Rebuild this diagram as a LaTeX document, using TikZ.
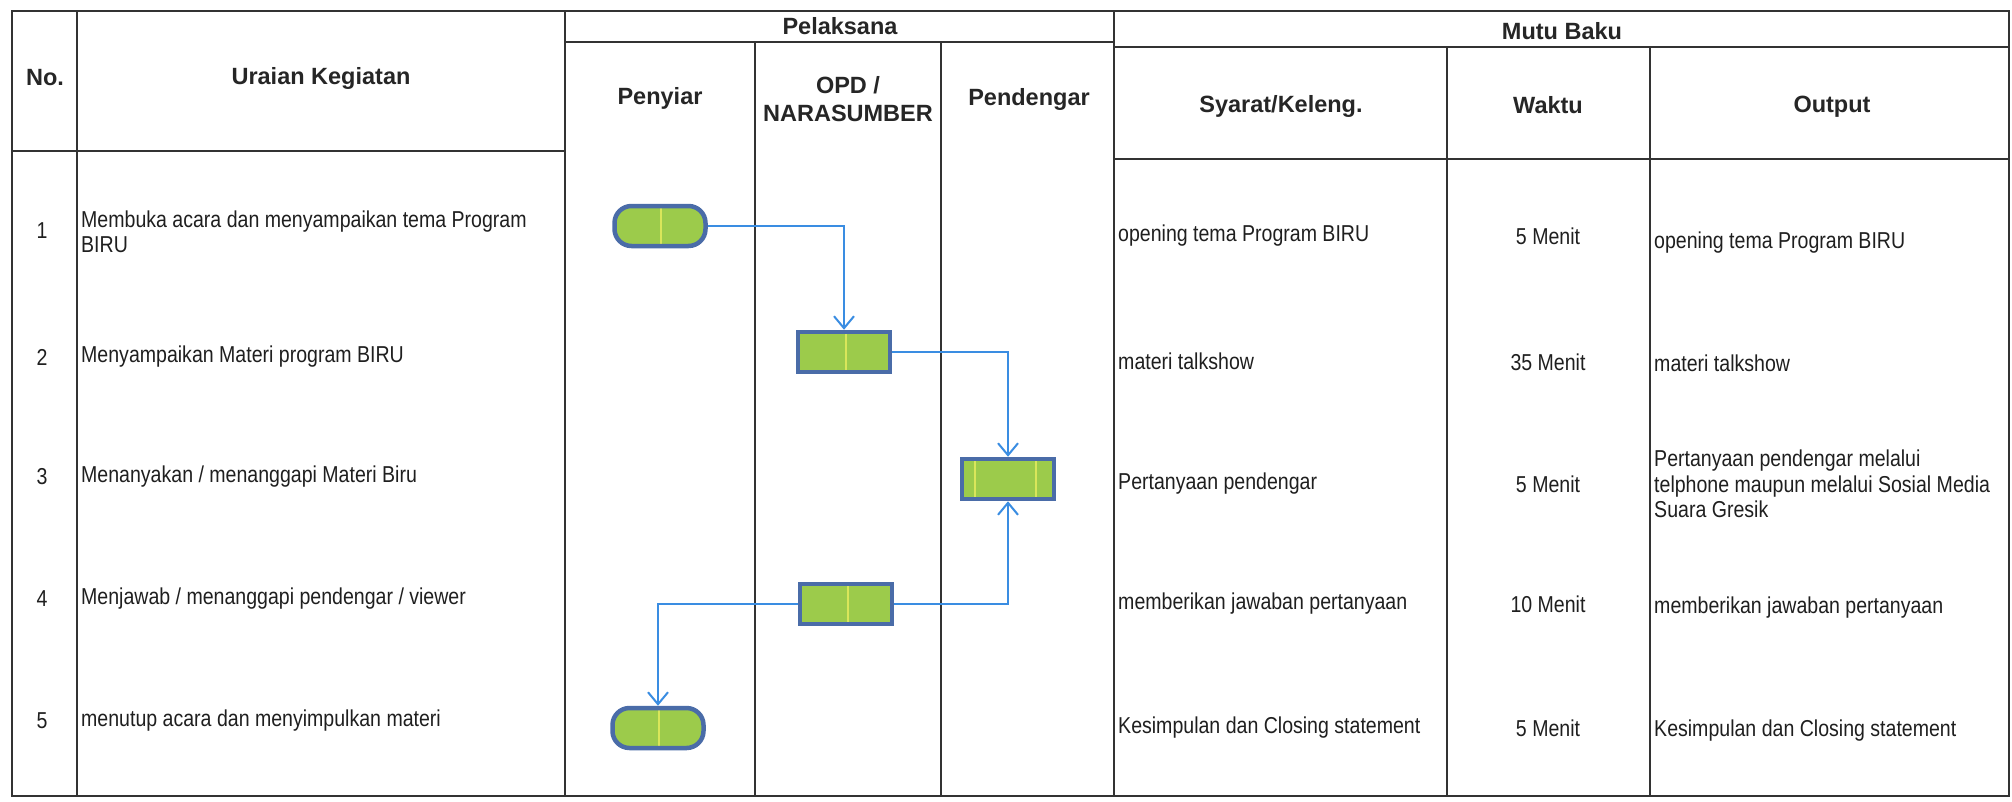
\documentclass[tikz,border=0pt]{standalone}
\usepackage{fontspec}
\setmainfont{Liberation Sans}
\newfontfamily\bodyfont[FakeStretch=0.85]{Liberation Sans}
\usetikzlibrary{arrows.meta}
\definecolor{gridc}{HTML}{333333}
\definecolor{flowfill}{HTML}{9CCB4B}
\definecolor{flowedge}{HTML}{4A6CA8}
\definecolor{flowarrow}{HTML}{3A8DE2}
\definecolor{streak}{HTML}{D9E65A}
\begin{document}
\begin{tikzpicture}[x=1pt,y=-1pt,
  grid/.style={draw=gridc,line width=2pt},
  hdr/.style={font=\fontsize{23.5}{28}\selectfont\bfseries,align=center,inner sep=0pt,text=black!85},
  body/.style={font=\bodyfont\fontsize{23}{25.5}\selectfont,inner sep=0pt,text=black!88},
  shapebase/.style={draw=flowedge,line width=4.5pt,fill=flowfill,inner sep=0pt,minimum height=40pt},
  term/.style={shapebase,rounded corners=17pt,minimum width=91pt,
    path picture={\draw[streak,line width=1.2pt] ([xshift=1pt]path picture bounding box.north) -- ([xshift=1pt]path picture bounding box.south);}},
  proc/.style={shapebase,minimum width=92pt,
    path picture={\draw[streak,line width=1.2pt] ([xshift=2pt]path picture bounding box.north) -- ([xshift=2pt]path picture bounding box.south);}},
  proctwo/.style={shapebase,minimum width=92pt,
    path picture={\draw[streak,line width=1.2pt] ([xshift=-33pt]path picture bounding box.north) -- ([xshift=-33pt]path picture bounding box.south);
                  \draw[streak,line width=1.2pt] ([xshift=28pt]path picture bounding box.north) -- ([xshift=28pt]path picture bounding box.south);}},
  flow/.style={draw=flowarrow,line width=2pt,-{Straight Barb[length=12pt,width=20pt,line width=2pt]}}
]
\useasboundingbox (0,0) rectangle (2012,801);
\fill[white] (0,0) rectangle (2012,801);

% table frame
\draw[grid] (12,11) rectangle (2009,796);
\draw[grid] (77,11) -- (77,796);
\draw[grid] (565,11) -- (565,796);
\draw[grid] (1114,11) -- (1114,796);
\draw[grid] (755,42) -- (755,796);
\draw[grid] (941,42) -- (941,796);
\draw[grid] (1447,47) -- (1447,796);
\draw[grid] (1650,47) -- (1650,796);
\draw[grid] (565,42) -- (1114,42);
\draw[grid] (1114,47) -- (2009,47);
\draw[grid] (12,151) -- (565,151);
\draw[grid] (1114,159) -- (2009,159);

% headers
\node[hdr] (hno) at (45,78) {No.};
\node[hdr] (hura) at (321,78) {Uraian Kegiatan};
\node[hdr] (hpel) at (840,26) {Pelaksana};
\node[hdr] (hpen) at (660,98) {Penyiar};
\node[hdr] (hopd) at (848,99) {OPD /\\NARASUMBER};
\node[hdr] (hpdg) at (1029,99) {Pendengar};
\node[hdr] (hmutu) at (1562,31) {Mutu Baku};
\node[hdr] (hsy) at (1281,106) {Syarat/Keleng.};
\node[hdr] (hwak) at (1548,105) {Waktu};
\node[hdr] (hout) at (1832,107) {Output};

% numbers
\node[body] (n1) at (42,231) {1};
\node[body] (n2) at (42,357) {2};
\node[body] (n3) at (42,477) {3};
\node[body] (n4) at (42,599) {4};
\node[body] (n5) at (42,721) {5};

% uraian
\node[body,anchor=west,align=left] (u1) at (81,232) {Membuka acara dan menyampaikan tema Program\\BIRU};
\node[body,anchor=west] (u2) at (81,357) {Menyampaikan Materi program BIRU};
\node[body,anchor=west] (u3) at (81,477) {Menanyakan / menanggapi Materi Biru};
\node[body,anchor=west] (u4) at (81,599) {Menjawab / menanggapi pendengar / viewer};
\node[body,anchor=west] (u5) at (81,721) {menutup acara dan menyimpulkan materi};

% syarat
\node[body,anchor=west] (s1t) at (1118,236) {opening tema Program BIRU};
\node[body,anchor=west] (s2t) at (1118,361) {materi talkshow};
\node[body,anchor=west] (s3t) at (1118,484) {Pertanyaan pendengar};
\node[body,anchor=west] (s4t) at (1118,604) {memberikan jawaban pertanyaan};
\node[body,anchor=west] (s5t) at (1118,728) {Kesimpulan dan Closing statement};

% waktu
\node[body] (w1) at (1548,236) {5 Menit};
\node[body] (w2) at (1548,362) {35 Menit};
\node[body] (w3) at (1548,484) {5 Menit};
\node[body] (w4) at (1548,604) {10 Menit};
\node[body] (w5) at (1548,728) {5 Menit};

% output
\node[body,anchor=west] (o1) at (1654,243) {opening tema Program BIRU};
\node[body,anchor=west] (o2) at (1654,363) {materi talkshow};
\node[body,anchor=west,align=left] (o3) at (1654,484) {Pertanyaan pendengar melalui\\telphone maupun melalui Sosial Media\\Suara Gresik};
\node[body,anchor=west] (o4) at (1654,608) {memberikan jawaban pertanyaan};
\node[body,anchor=west] (o5) at (1654,731) {Kesimpulan dan Closing statement};

% flow shapes
\node[term] (st) at (660,226) {};
\node[proc] (b2) at (844,352) {};
\node[proctwo] (b3) at (1008,479) {};
\node[proc] (b4) at (846,604) {};
\node[term] (en) at (658,728) {};

% connectors
\draw[flow] (st.east) -| (b2.north);
\draw[flow] (b2.east) -| (b3.north);
\draw[flow] (b4.east) -| (b3.south);
\draw[flow] (b4.west) -| (en.north);
\end{tikzpicture}
\end{document}
